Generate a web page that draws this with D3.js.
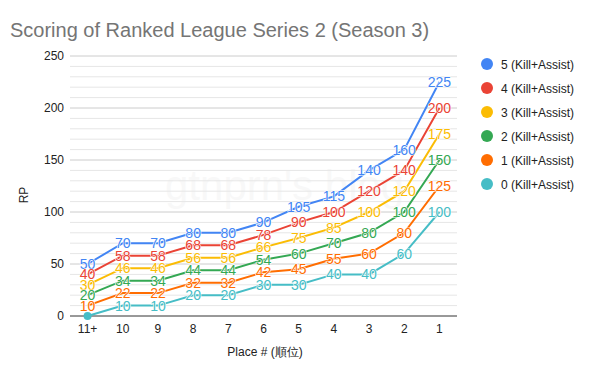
<!DOCTYPE html>
<html><head><meta charset="utf-8">
<script src="https://cdn.jsdelivr.net/npm/d3@7"></script>
<style>body{margin:0;background:#fff}</style>
</head><body>
<script>
const categories = ["11+","10","9","8","7","6","5","4","3","2","1"];
const seriesNames = ["5 (Kill+Assist)","4 (Kill+Assist)","3 (Kill+Assist)","2 (Kill+Assist)","1 (Kill+Assist)","0 (Kill+Assist)"];
const s5 = [50,70,70,80,80,90,105,115,140,160,225];
const s4 = [40,58,58,68,68,78,90,100,120,140,200];
const s3 = [30,46,46,56,56,66,75,85,100,120,175];
const s2 = [20,34,34,44,44,54,60,70,80,100,150];
const s1 = [10,22,22,32,32,42,45,55,60,80,125];
const s0 = [0,10,10,20,20,30,30,40,40,60,100];
const yTicks = [0,50,100,150,200,250];
const colors = ["#4285F4","#EA4335","#FBBC04","#34A853","#FF6D01","#46BDC6"];
const allSeries = [s5,s4,s3,s2,s1,s0];

const FONT="'Liberation Sans', Arial, sans-serif";
const W=600,H=371;
const svg=d3.select("body").append("svg").attr("width",W).attr("height",H).style("font-family",FONT);
const x=d3.scaleBand().domain(categories).range([70,457]);
const y=d3.scaleLinear().domain([0,250]).range([316,56]);
const cx=c=>x(c)+x.bandwidth()/2;

svg.append("text").attr("x",10).attr("y",37).text("Scoring of Ranked League Series 2 (Season 3)").attr("font-size",20).attr("fill","#757575");

// watermark
svg.append("text").attr("x",165).attr("y",200).text("gtnprn's blog").attr("font-size",42).attr("fill","#000").attr("opacity",0.025);

// grid
const g=svg.append("g");
g.selectAll("line.minor").data(d3.range(10,251,10).filter(v=>v%50!==0)).join("line")
 .attr("x1",70).attr("x2",457).attr("y1",d=>y(d)).attr("y2",d=>y(d)).attr("stroke","#e6e6e6").attr("stroke-width",1);
g.selectAll("line.major").data(yTicks.filter(v=>v>0)).join("line")
 .attr("x1",70).attr("x2",457).attr("y1",d=>y(d)).attr("y2",d=>y(d)).attr("stroke","#cccccc").attr("stroke-width",1);
g.append("line").attr("x1",70).attr("x2",457).attr("y1",y(0)).attr("y2",y(0)).attr("stroke","#333").attr("stroke-width",1);

// y axis labels
const yAxis=d3.axisLeft(y).tickValues(yTicks).tickSize(0).tickPadding(0);
const ya=svg.append("g").attr("transform","translate(64,0)").call(yAxis);
ya.select(".domain").remove();
ya.selectAll("text").attr("font-size",12).attr("fill","#222").attr("font-family",FONT);

// x axis labels
const xAxis=d3.axisBottom(x).tickSize(0).tickPadding(0);
const xa=svg.append("g").attr("transform","translate(0,324)").call(xAxis);
xa.select(".domain").remove();
xa.selectAll("text").attr("font-size",12).attr("fill","#222").attr("font-family",FONT);

svg.append("text").attr("transform","translate(28,195) rotate(-90)").attr("text-anchor","middle").text("RP").attr("font-size",12).attr("fill","#222");
svg.append("text").attr("x",265).attr("y",356).attr("text-anchor","middle").text("Place # (順位)").attr("font-size",12).attr("fill","#222");

// lines
const line=d3.line().x((d,i)=>cx(categories[i])).y(d=>y(d));
allSeries.forEach((s,k)=>{
  svg.append("path").datum(s).attr("d",line).attr("fill","none").attr("stroke",colors[k]).attr("stroke-width",2);
});
svg.append("circle").attr("cx",cx(categories[0])).attr("cy",y(s0[0])).attr("r",4).attr("fill",colors[5]);
// data labels
allSeries.forEach((s,k)=>{
  const lg=svg.append("g");
  s.forEach((v,i)=>{
    if(k===5 && i===0) return;
    lg.append("text").attr("x",cx(categories[i])).attr("y",y(v)+5).attr("text-anchor","middle")
      .attr("font-size",14).attr("fill",colors[k]).attr("stroke","#fff").attr("stroke-width",1.2).attr("paint-order","stroke").text(v);
  });
});

// legend
seriesNames.forEach((n,k)=>{
  const yy=64+k*24;
  svg.append("circle").attr("cx",487).attr("cy",yy).attr("r",6).attr("fill",colors[k]);
  svg.append("text").attr("x",501).attr("y",yy+4.5).text(n).attr("font-size",12).attr("fill","#222");
});
</script>
</body></html>
